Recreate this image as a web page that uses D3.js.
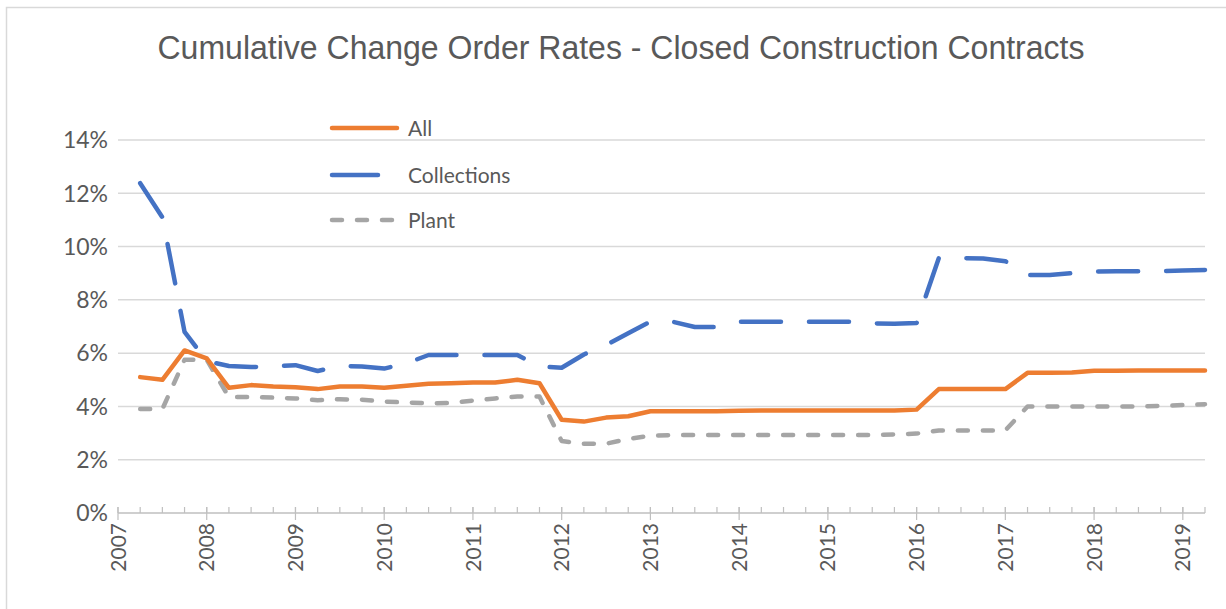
<!DOCTYPE html>
<html>
<head>
<meta charset="utf-8">
<script src="https://cdn.jsdelivr.net/npm/d3@7"></script>
<style>
  body { margin: 0; background: #fff; }
  svg { display: block; }
</style>
</head>
<body>
<svg id="chart" width="1226" height="609"></svg>
<script>
// quarterly observations (decimal year)
const quarters = [
  2007.25, 2007.5, 2007.75, 2008, 2008.25, 2008.5, 2008.75, 2009, 2009.25, 2009.5, 2009.75,
  2010, 2010.25, 2010.5, 2010.75, 2011, 2011.25, 2011.5, 2011.75, 2012, 2012.25, 2012.5, 2012.75,
  2013, 2013.25, 2013.5, 2013.75, 2014, 2014.25, 2014.5, 2014.75, 2015, 2015.25, 2015.5, 2015.75,
  2016, 2016.25, 2016.5, 2016.75, 2017, 2017.25, 2017.5, 2017.75, 2018, 2018.25, 2018.5, 2018.75,
  2019, 2019.25
];

// rates in percent
const allRates = [
  5.1, 5.0, 6.1, 5.8, 4.7, 4.8, 4.75, 4.72, 4.65, 4.75, 4.75,
  4.7, 4.78, 4.85, 4.87, 4.9, 4.9, 5.0, 4.87, 3.5, 3.43, 3.58, 3.63,
  3.82, 3.82, 3.82, 3.82, 3.84, 3.85, 3.85, 3.85, 3.85, 3.85, 3.85, 3.85,
  3.88, 4.65, 4.65, 4.65, 4.65, 5.26, 5.26, 5.27, 5.34, 5.34, 5.35, 5.35,
  5.35, 5.35
];

const collectionsRates = [
  12.38, 11.1, 6.8, 5.7, 5.52, 5.48, 5.5, 5.55, 5.33, 5.52, 5.5,
  5.42, 5.62, 5.93, 5.93, 5.93, 5.93, 5.93, 5.5, 5.45, 5.95, 6.3, 6.75,
  7.18, 7.18, 6.98, 6.98, 7.18, 7.18, 7.18, 7.18, 7.18, 7.18, 7.12, 7.1,
  7.13, 9.57, 9.57, 9.55, 9.45, 8.93, 8.93, 9.0, 9.06, 9.07, 9.07, 9.08,
  9.1, 9.12
];

const plantRates = [
  3.9, 3.9, 5.75, 5.75, 4.35, 4.35, 4.33, 4.3, 4.23, 4.27, 4.25,
  4.18, 4.15, 4.12, 4.13, 4.22, 4.3, 4.37, 4.37, 2.7, 2.6, 2.6, 2.78,
  2.9, 2.92, 2.93, 2.93, 2.93, 2.93, 2.93, 2.93, 2.93, 2.93, 2.93, 2.95,
  2.98, 3.1, 3.1, 3.1, 3.1, 4.0, 4.0, 4.0, 4.0, 4.0, 4.0, 4.02,
  4.05, 4.08
];

const yearTicks = [2007, 2008, 2009, 2010, 2011, 2012, 2013, 2014, 2015, 2016, 2017, 2018, 2019];
const pctTicks = [0, 2, 4, 6, 8, 10, 12, 14];
const seriesNames = ["All", "Collections", "Plant"];

const svg = d3.select("#chart");
const textColor = "#595959";
const font = "Lato, 'Open Sans', sans-serif";

const x = d3.scaleLinear().domain([2007, 2019.25]).range([118, 1205]);
const y = d3.scaleLinear().domain([0, 14]).range([513, 140]);

// outer frame
svg.append("rect")
  .attr("x", 6.5).attr("y", 7.5)
  .attr("width", 1240).attr("height", 620)
  .attr("fill", "#fff")
  .attr("stroke", "#d9d9d9")
  .attr("stroke-width", 1.5);

// title
svg.append("text")
  .attr("x", 621).attr("y", 59)
  .attr("text-anchor", "middle")
  .attr("font-family", "'Liberation Sans', Arial, sans-serif")
  .attr("font-size", 32.5)
  .attr("fill", textColor)
  .attr("textLength", 927)
  .attr("lengthAdjust", "spacingAndGlyphs")
  .text("Cumulative Change Order Rates - Closed Construction Contracts");

// gridlines
svg.append("g")
  .selectAll("line")
  .data(pctTicks.filter(d => d > 0))
  .join("line")
  .attr("x1", x(2007)).attr("x2", x(2019.25))
  .attr("y1", d => y(d)).attr("y2", d => y(d))
  .attr("stroke", "#d9d9d9")
  .attr("stroke-width", 1.5);

// y labels
svg.append("g")
  .selectAll("text")
  .data(pctTicks)
  .join("text")
  .attr("x", 108)
  .attr("y", d => y(d))
  .attr("dy", "0.36em")
  .attr("text-anchor", "end")
  .attr("font-family", font)
  .attr("font-size", 23)
  .attr("fill", textColor)
  .text(d => d + "%");

// x axis line + ticks
const xAxis = svg.append("g");
xAxis.append("line")
  .attr("x1", x(2007)).attr("x2", x(2019.25))
  .attr("y1", y(0)).attr("y2", y(0))
  .attr("stroke", "#bfbfbf").attr("stroke-width", 1.5);
xAxis.selectAll("line.minor")
  .data([2007].concat(quarters))
  .join("line")
  .attr("class", "minor")
  .attr("x1", d => x(d)).attr("x2", d => x(d))
  .attr("y1", y(0) - 6).attr("y2", y(0))
  .attr("stroke", "#bfbfbf").attr("stroke-width", 1.2);
xAxis.selectAll("line.major")
  .data(yearTicks)
  .join("line")
  .attr("class", "major")
  .attr("x1", d => x(d)).attr("x2", d => x(d))
  .attr("y1", y(0) - 6).attr("y2", y(0) + 7)
  .attr("stroke", "#bfbfbf").attr("stroke-width", 1.2);
xAxis.selectAll("text")
  .data(yearTicks)
  .join("text")
  .attr("transform", d => `translate(${x(d)},${y(0) + 10}) rotate(-90)`)
  .attr("dy", "0.36em")
  .attr("text-anchor", "end")
  .attr("font-family", font)
  .attr("font-size", 21)
  .attr("fill", textColor)
  .text(d => d);

// series
const styles = {
  "All": { color: "#ED7D31", dash: null },
  "Collections": { color: "#4472C4", dash: "40,28" },
  "Plant": { color: "#A5A5A5", dash: "10,15" }
};
const seriesValues = [allRates, collectionsRates, plantRates];

const line = d3.line()
  .x((d, i) => x(quarters[i]))
  .y(d => y(d));

// draw plant first, then all, then collections on top
[2, 0, 1].forEach(k => {
  const name = seriesNames[k];
  svg.append("path")
    .datum(seriesValues[k])
    .attr("d", line)
    .attr("fill", "none")
    .attr("stroke", styles[name].color)
    .attr("stroke-width", 4.5)
    .attr("stroke-linejoin", "round")
    .attr("stroke-linecap", "round")
    .attr("stroke-dasharray", styles[name].dash);
});

// legend
const legendY = [128, 175, 220];
const legend = svg.append("g")
  .selectAll("g")
  .data(seriesNames)
  .join("g")
  .attr("transform", (d, i) => `translate(0,${legendY[i]})`);
legend.append("line")
  .attr("x1", 332).attr("x2", d => d === "Collections" ? 378 : 397)
  .attr("y1", 0).attr("y2", 0)
  .attr("stroke", d => styles[d].color)
  .attr("stroke-width", 4.5)
  .attr("stroke-linecap", "round")
  .attr("stroke-dasharray", d => d === "Collections" ? null : styles[d].dash);
legend.append("text")
  .attr("x", 408)
  .attr("y", 0)
  .attr("dy", "0.36em")
  .attr("font-family", font)
  .attr("font-size", 21)
  .attr("fill", textColor)
  .text(d => d);
</script>
</body>
</html>
